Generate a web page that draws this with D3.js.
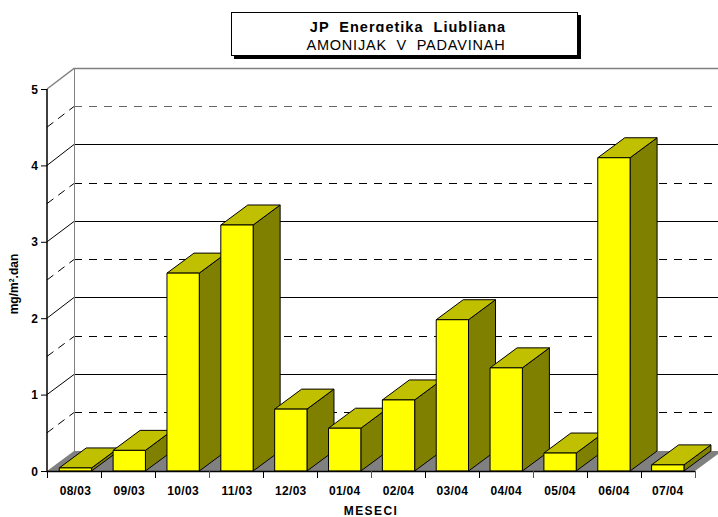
<!DOCTYPE html>
<html><head><meta charset="utf-8">
<script src="https://cdn.jsdelivr.net/npm/d3@7"></script>
<style>html,body{margin:0;padding:0;background:#fff;overflow:hidden}svg{display:block}text{font-family:"Liberation Sans",Arial,sans-serif;fill:#000}</style>
</head><body><svg id="c" width="718" height="517"></svg>
<script>
const categories=["08/03","09/03","10/03","11/03","12/03","01/04","02/04","03/04","04/04","05/04","06/04","07/04"];
const values=[0.04,0.27,2.59,3.22,0.81,0.56,0.93,1.98,1.35,0.235,4.10,0.08];
const yTicks=[0,1,2,3,4,5];
const dashTicks=[0.5,1.5,2.5,3.5,4.5];
const titleLine1="JP  Energetika  Ljubljana";
const titleLine2="AMONIJAK  V  PADAVINAH";
const xTitle="MESECI";
const DX=27,DY=-20;
const svg=d3.select("#c");
const y=d3.scaleLinear().domain([0,5]).range([471,89]);
const xTick=d3.scalePoint().domain(d3.range(13)).range([47,695]);
const x=d3.scaleBand().domain(categories).range([48.5,694.7]).paddingInner(0.4).paddingOuter(0.2);
const xEnd=718;
const x0=47,x1=x0+DX;
const snap=v=>Math.floor(v-.4)+.5;

// floor
svg.append("path").attr("fill","#808080")
 .attr("d",d3.line()([[x0,y(0)],[x1,y(0)+DY],[xEnd+4,y(0)+DY],[695,y(0)]])+"Z");

// grid lines
const grid=svg.append("g").attr("fill","none");
yTicks.slice(1).forEach(t=>{
  const c=t===5?"#808080":"#000";
  grid.append("path").attr("stroke",c).attr("stroke-width",t===5?1.5:1)
   .attr("d",d3.line()([[x0,y(t)],[x1,snap(y(t)+DY)],[xEnd,snap(y(t)+DY)]]));
});
dashTicks.forEach(t=>{
  grid.append("path").attr("stroke",t===4.5?"#666":"#000").attr("stroke-dasharray","8 7")
   .attr("d",d3.line()([[x1,snap(y(t)+DY)],[xEnd,snap(y(t)+DY)]]));
  grid.append("path").attr("stroke","#000").attr("stroke-dasharray","8 6")
   .attr("d",d3.line()([[x0,y(t)],[x1,snap(y(t)+DY)]]));
});
grid.append("path").attr("stroke","#808080").attr("d",`M${x1+.5},${y(5)+DY}V${y(0)+DY}`);

// bars
const bars=svg.selectAll("g.bar").data(categories.map((c,i)=>({c,v:values[i]}))).join("g").attr("class","bar")
 .attr("stroke","#000").attr("stroke-width",1).attr("stroke-linejoin","round");
const px=d3.line();
bars.append("path").attr("fill","#808000").attr("d",d=>{
  const r=x(d.c)+x.bandwidth(),t=y(d.v),b=y(0);
  return px([[r,b],[r+DX,b+DY],[r+DX,t+DY],[r,t]])+"Z";});
bars.append("path").attr("fill","#C0C000").attr("d",d=>{
  const l=x(d.c),r=l+x.bandwidth(),t=y(d.v);
  return px([[l,t],[l+DX,t+DY],[r+DX,t+DY],[r,t]])+"Z";});
bars.append("rect").attr("fill","#FFFF00")
 .attr("x",d=>x(d.c)).attr("y",d=>y(d.v)).attr("width",x.bandwidth()).attr("height",d=>y(0)-y(d.v));

// axes
const axis=svg.append("g").attr("stroke","#000").attr("fill","none");
axis.append("path").attr("stroke-width",1.5).attr("d",`M${x0},${y(5)}V${y(0)+.5}H695`);
yTicks.forEach(t=>axis.append("path").attr("d",`M41,${y(t)+.5}H${x0}`));
xTick.domain().forEach(i=>axis.append("path").attr("stroke",i%3===0&&i>0?"#555":"#000").attr("d",`M${xTick(i)+.5},${y(0)}V478`));

svg.selectAll("text.yl").data(yTicks).join("text").attr("class","yl")
 .attr("x",38).attr("y",d=>y(d)+4.5).attr("text-anchor","end")
 .attr("font-size",12).attr("font-weight","bold").text(d=>d);
svg.selectAll("text.xl").data(categories).join("text").attr("class","xl")
 .attr("x",d=>x(d)+x.bandwidth()/2).attr("y",495).attr("text-anchor","middle")
 .attr("font-size",12).attr("font-weight","bold").attr("letter-spacing",0.3).text(d=>d);
svg.append("text").attr("x",371).attr("y",515).attr("text-anchor","middle")
 .attr("font-size",12).attr("font-weight","bold").attr("letter-spacing",1.4).text(xTitle);
const yt=svg.append("text").attr("transform","translate(18,284) rotate(-90)").attr("text-anchor","middle")
 .attr("font-size",12).attr("font-weight","bold");
yt.append("tspan").text("mg/m");
yt.append("tspan").attr("font-size",7).attr("dy",-4).text("2");
yt.append("tspan").attr("dy",4).text(".dan");

// title box
svg.append("rect").attr("x",234).attr("y",15).attr("width",347).attr("height",44).attr("fill","#000");
svg.append("rect").attr("x",231.5).attr("y",12.5).attr("width",346).attr("height",43).attr("fill","#fff").attr("stroke","#000");
svg.append("clipPath").attr("id","tc").append("rect").attr("x",232).attr("y",13).attr("width",345).attr("height",19);
svg.append("text").attr("clip-path","url(#tc)").attr("x",408).attr("y",32).attr("text-anchor","middle")
 .attr("font-size",14.5).attr("font-weight","bold").attr("letter-spacing",1).style("white-space","pre").text(titleLine1);
svg.append("text").attr("x",406).attr("y",50).attr("text-anchor","middle")
 .attr("font-size",14.5).attr("letter-spacing",0.8).style("white-space","pre").text(titleLine2);
</script></body></html>
